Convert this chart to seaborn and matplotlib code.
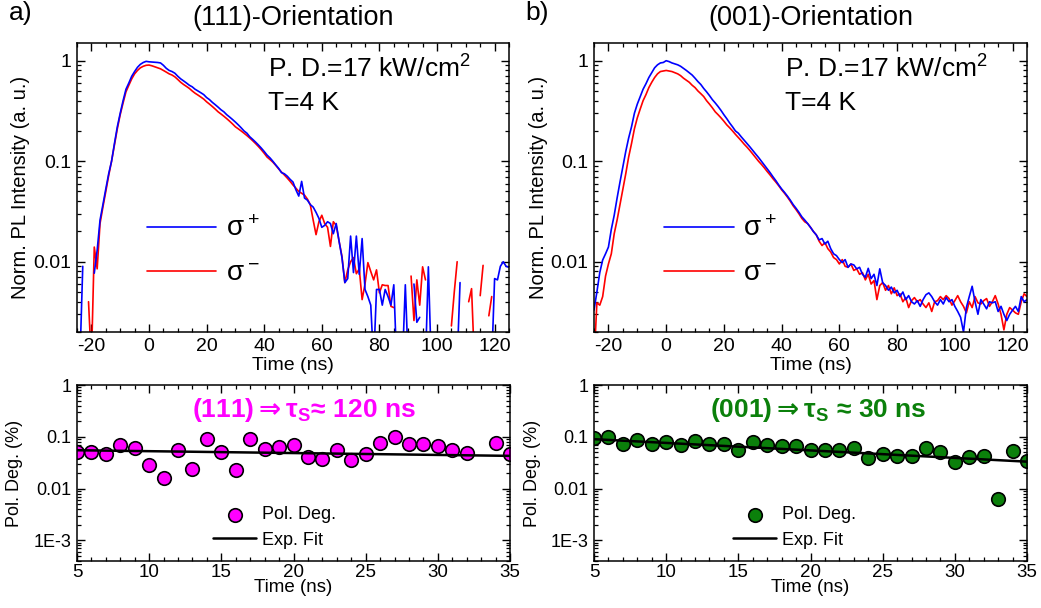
import numpy as np
import pandas as pd
import matplotlib
matplotlib.use("Agg")
import matplotlib.pyplot as plt
import seaborn as sns
from matplotlib.ticker import FixedLocator, FixedFormatter, MultipleLocator, LogLocator, NullFormatter

nan = np.nan

# ---------------------------------------------------------------- data
# time grid of the time-resolved PL traces (ns)
time_ns = np.arange(-25, 126, 1)

# (111) orientation, normalised PL intensity
pl111_sigma_plus = [
    nan, 0.001, 0.009, nan, nan, nan, 0.0077, 0.013, 0.026, 0.037,          # -25..-16
    0.053, 0.075, 0.10, 0.15, 0.22, 0.30, 0.40, 0.52, 0.60, 0.70,          # -15..-6
    0.78, 0.86, 0.92, 0.96, 0.985, 0.975, 0.97, 0.965, 0.96, 0.95,         # -5..4
    0.90, 0.84, 0.80, 0.78, 0.75, 0.70, 0.66, 0.63, 0.60, 0.57,            # 5..14
    0.55, 0.52, 0.50, 0.48, 0.46, 0.43, 0.41, 0.385, 0.365, 0.345,         # 15..24
    0.325, 0.31, 0.29, 0.275, 0.26, 0.245, 0.23, 0.215, 0.20, 0.19,        # 25..34
    0.175, 0.165, 0.155, 0.145, 0.135, 0.125, 0.115, 0.108, 0.10, 0.092,   # 35..44
    0.085, 0.077, 0.075, 0.071, 0.066, 0.062, 0.052, 0.045, 0.063, 0.043,  # 45..54
    0.041, 0.037, 0.035, 0.031, 0.027, 0.022, 0.023, 0.025, 0.024, 0.019,  # 55..64
    0.024, 0.016, 0.011, 0.0062, 0.0068, 0.018, 0.0078, 0.018, 0.0075, 0.017,  # 65..74
    0.0053, 0.0045, 0.0037, 0.001, 0.0053, 0.0053, 0.0037, 0.0053, 0.0045, 0.0037,  # 75..84
    0.0059, 0.001, nan, 0.001, 0.0059, 0.001, nan, 0.006, 0.0025, 0.0028,  # 85..94
    nan, 0.001, 0.0089, 0.001, nan, nan, nan, nan, nan, nan,               # 95..104
    nan, nan, 0.001, 0.0062, nan, nan, nan, nan, nan, nan,                 # 105..114
    nan, nan, nan, nan, 0.001, 0.0068, 0.0066, 0.0090, 0.010, 0.0090,      # 115..124
    0.0088,                                                                # 125
]
pl111_sigma_minus = [
    nan, nan, nan, nan, 0.004, 0.001, 0.014, 0.0085, 0.024, 0.035,
    0.050, 0.072, 0.10, 0.145, 0.21, 0.29, 0.38, 0.49, 0.57, 0.66,
    0.74, 0.80, 0.85, 0.88, 0.90, 0.905, 0.89, 0.87, 0.85, 0.83,
    0.80, 0.77, 0.74, 0.72, 0.69, 0.65, 0.61, 0.58, 0.555, 0.53,
    0.50, 0.475, 0.455, 0.435, 0.415, 0.39, 0.37, 0.35, 0.33, 0.31,
    0.295, 0.28, 0.265, 0.25, 0.235, 0.22, 0.21, 0.20, 0.19, 0.18,
    0.17, 0.16, 0.15, 0.14, 0.13, 0.12, 0.11, 0.104, 0.098, 0.091,
    0.084, 0.078, 0.073, 0.068, 0.063, 0.058, 0.054, 0.050, 0.048, 0.046,
    0.042, 0.037, 0.026, 0.0186, 0.025, 0.029, 0.024, 0.022, 0.0142, 0.025,
    0.023, 0.016, 0.0113, 0.0062, 0.0083, 0.010, 0.011, 0.0076, 0.0085, 0.0042,
    0.006, 0.0098, 0.008, 0.0066, 0.0083, 0.0049, 0.0059, 0.0058, 0.0058, 0.0036,
    0.0035, nan, nan, nan, nan, nan, 0.0072, 0.0026, 0.0066, 0.0037,
    0.0089, 0.0066, nan, nan, nan, nan, nan, nan, nan, nan,
    0.0023, 0.005, 0.010, nan, nan, nan, 0.004, 0.0054, 0.001, nan,
    0.0046, 0.0092, nan, 0.0029, 0.0045, nan, nan, nan, nan, nan,
    nan,
]

# (001) orientation, normalised PL intensity
pl001_sigma_plus = [
    0.0033, 0.0050, 0.0078, 0.0104, 0.0120, 0.0140, 0.021, 0.029, 0.043, 0.062,
    0.088, 0.125, 0.17, 0.22, 0.30, 0.37, 0.44, 0.52, 0.59, 0.68,
    0.76, 0.85, 0.91, 0.95, 0.96, 1.0, 0.98, 0.95, 0.93, 0.91,
    0.88, 0.84, 0.80, 0.76, 0.72, 0.67, 0.62, 0.58, 0.53, 0.49,
    0.45, 0.41, 0.38, 0.35, 0.32, 0.29, 0.265, 0.24, 0.22, 0.20,
    0.19, 0.175, 0.162, 0.15, 0.139, 0.128, 0.118, 0.109, 0.100, 0.092,
    0.084, 0.077, 0.070, 0.064, 0.058, 0.053, 0.049, 0.045, 0.041, 0.037,
    0.034, 0.031, 0.028, 0.026, 0.024, 0.022, 0.020, 0.0185, 0.0165, 0.017,
    0.015, 0.016, 0.0135, 0.012, 0.0115, 0.0105, 0.0098, 0.0105, 0.0088, 0.0095,
    0.0093, 0.0085, 0.0088, 0.0075, 0.0070, 0.0086, 0.0068, 0.0075, 0.0058, 0.0085,
    0.0062, 0.0058, 0.0052, 0.0056, 0.0049, 0.0052, 0.0045, 0.0050, 0.0042, 0.0046,
    0.0040, 0.0038, 0.0041, 0.0036, 0.0042, 0.0047, 0.0049, 0.0045, 0.0040, 0.0037,
    0.0042, 0.0038, 0.0044, 0.0040, 0.0042, 0.0036, 0.0032, 0.0028, 0.0020, 0.0035,
    0.0045, 0.0057, 0.0040, 0.0030, 0.0042, 0.0038, 0.0034, 0.0040, 0.0039, 0.0040,
    0.0032, 0.0036, 0.0030, 0.0026, 0.0030, 0.0033, 0.0036, 0.0032, 0.0045, 0.0040,
    0.0042,
]
pl001_sigma_minus = [
    0.001, 0.0039, 0.0037, 0.0045, 0.0072, 0.0095, 0.012, 0.019, 0.026, 0.037,
    0.052, 0.075, 0.11, 0.15, 0.21, 0.27, 0.33, 0.40, 0.46, 0.54,
    0.61, 0.68, 0.74, 0.78, 0.79, 0.80, 0.79, 0.78, 0.76, 0.74,
    0.71, 0.67, 0.64, 0.61, 0.57, 0.54, 0.50, 0.47, 0.44, 0.40,
    0.37, 0.34, 0.31, 0.29, 0.27, 0.25, 0.23, 0.215, 0.20, 0.185,
    0.172, 0.16, 0.148, 0.138, 0.128, 0.118, 0.109, 0.100, 0.093, 0.086,
    0.079, 0.073, 0.067, 0.062, 0.057, 0.052, 0.048, 0.044, 0.040, 0.036,
    0.033, 0.030, 0.027, 0.025, 0.024, 0.022, 0.020, 0.0185, 0.016, 0.0145,
    0.0155, 0.0135, 0.0125, 0.011, 0.0105, 0.0095, 0.0105, 0.009, 0.0088, 0.0095,
    0.0082, 0.0085, 0.0075, 0.0078, 0.0066, 0.0075, 0.0060, 0.0065, 0.0042, 0.0058,
    0.0062, 0.0052, 0.0058, 0.0048, 0.0055, 0.0046, 0.0048, 0.0040, 0.0044, 0.0035,
    0.0041, 0.0044, 0.0040, 0.0042, 0.0038, 0.0035, 0.0039, 0.0032, 0.0040, 0.0041,
    0.0045, 0.0042, 0.0046, 0.0043, 0.0037, 0.0041, 0.0046, 0.0040, 0.0036, 0.0031,
    0.0040, 0.0035, 0.0045, 0.0039, 0.0038, 0.0041, 0.0043, 0.0036, 0.0040, 0.0046,
    0.0038, 0.0030, 0.0021, 0.0030, 0.0035, 0.0033, 0.0031, 0.0030, 0.0040, 0.0048,
    0.0045,
]

# degree of polarisation vs time (ns)
pol_time = np.arange(5, 36, 1)
pol_deg_111 = [0.052, 0.052, 0.046, 0.069, 0.061, 0.028, 0.016, 0.056, 0.024, 0.090,
               0.052, 0.023, 0.090, 0.059, 0.064, 0.069, 0.041, 0.038, 0.055, 0.035,
               0.047, 0.075, 0.097, 0.073, 0.073, 0.067, 0.056, 0.048, nan, 0.075,
               0.046]
pol_deg_001 = [0.093, 0.100, 0.073, 0.086, 0.074, 0.080, 0.069, 0.082, 0.074, 0.072,
               0.055, 0.080, 0.071, 0.067, 0.067, 0.056, 0.056, 0.056, 0.061, 0.039,
               0.047, 0.042, 0.042, 0.061, 0.051, 0.032, 0.041, 0.042, 0.0062, 0.054,
               0.034]

# exponential fits: amplitude at t = 5 ns and spin lifetime (ns)
fit_111 = {"amp": 0.055, "tau": 120}
fit_001 = {"amp": 0.090, "tau": 30}

trace_ticks = [0.01, 0.1, 1]
trace_ticklabels = ["0.01", "0.1", "1"]
pol_ticks = [1e-3, 0.01, 0.1, 1]
pol_ticklabels = ["1E-3", "0.01", "0.1", "1"]

# ---------------------------------------------------------------- style
sns.set_theme(style="ticks")
plt.rcParams.update({
    "font.family": ["Liberation Sans", "DejaVu Sans"],
    "mathtext.default": "regular",
    "axes.unicode_minus": False,
    "axes.linewidth": 1.1,
    "axes.edgecolor": "black",
    "xtick.direction": "in", "ytick.direction": "in",
    "xtick.top": True, "ytick.right": True,
    "xtick.major.size": 5.5, "ytick.major.size": 5.5,
    "xtick.minor.size": 3, "ytick.minor.size": 3,
    "xtick.major.width": 1.0, "ytick.major.width": 1.0,
    "xtick.minor.width": 0.9, "ytick.minor.width": 0.9,
    "xtick.color": "black", "ytick.color": "black",
    "text.color": "black", "axes.labelcolor": "black",
})

BLUE, RED = "#0000ff", "#ff0000"
MAGENTA, GREEN = "#ff00ff", "#0b800b"

fig = plt.figure(figsize=(10.41, 6.08), dpi=100)
W, H = 1041, 608


def px_axes(left, top, right, bottom):
    return fig.add_axes([left / W, 1 - bottom / H, (right - left) / W, (bottom - top) / H])


def segments(values):
    arr = np.asarray(values, dtype=float)
    return np.cumsum(np.isnan(arr))


def draw_traces(ax, plus, minus, title, ylab_x):
    for vals, lab, col in [(minus, r"σ$^-$", RED), (plus, r"σ$^+$", BLUE)]:
        df = pd.DataFrame({"t": time_ns, "I": vals, "seg": segments(vals)})
        sns.lineplot(data=df, x="t", y="I", units="seg", estimator=None,
                     color=col, lw=1.2, label=lab, ax=ax)
    ax.set_yscale("log")
    ax.set_xlim(-25, 125)
    ax.set_ylim(0.002, 1.5)
    ax.xaxis.set_major_locator(MultipleLocator(20))
    ax.xaxis.set_minor_locator(MultipleLocator(5))
    ax.yaxis.set_major_locator(FixedLocator(trace_ticks))
    ax.yaxis.set_major_formatter(FixedFormatter(trace_ticklabels))
    ax.yaxis.set_minor_locator(LogLocator(base=10, subs=np.arange(2, 10)))
    ax.yaxis.set_minor_formatter(NullFormatter())
    ax.tick_params(labelsize=14, pad=4)
    ax.set_xlabel("Time (ns)", fontsize=14)
    ax.set_ylabel("Norm. PL Intensity (a. u.)", fontsize=14.5)
    ax.xaxis.set_label_coords(0.5, -0.085)
    ax.yaxis.set_label_coords(ylab_x, 0.5)
    ax.text(0.5, 1.087, title, transform=ax.transAxes, ha="center", va="center", fontsize=19.5)
    ax.text(0.442, 0.879, r"P. D.=17 kW/cm$^2$", transform=ax.transAxes, fontsize=19)
    ax.text(0.442, 0.768, "T=4 K", transform=ax.transAxes, fontsize=19)
    handles, labels = ax.get_legend_handles_labels()
    uniq = dict(zip(labels, handles))
    order = [r"σ$^+$", r"σ$^-$"]
    ax.legend([uniq[k] for k in order], order, loc="center left",
              bbox_to_anchor=(0.162, 0.278), frameon=False, fontsize=20,
              handlelength=2.5, handletextpad=0.35, labelspacing=0.67,
              borderpad=0, borderaxespad=0)
    for s in ax.spines.values():
        s.set_linewidth(1.1)


def draw_pol(ax, values, fit, color, label, label_x, leg_x, ylab_x):
    sns.scatterplot(x=pol_time, y=values, color=color, edgecolor="black", linewidth=1.2,
                    s=95, label="Pol. Deg.", ax=ax, zorder=2)
    fit_curve = fit["amp"] * np.exp(-(pol_time - pol_time[0]) / fit["tau"])
    sns.lineplot(x=pol_time, y=fit_curve, color="black", lw=1.8, label="Exp. Fit",
                 ax=ax, zorder=3)
    ax.set_yscale("log")
    ax.set_xlim(5, 35)
    ax.set_ylim(4e-4, 1.0)
    ax.xaxis.set_major_locator(MultipleLocator(5))
    ax.xaxis.set_minor_locator(MultipleLocator(1))
    ax.yaxis.set_major_locator(FixedLocator(pol_ticks))
    ax.yaxis.set_major_formatter(FixedFormatter(pol_ticklabels))
    ax.yaxis.set_minor_locator(LogLocator(base=10, subs=np.arange(2, 10)))
    ax.yaxis.set_minor_formatter(NullFormatter())
    ax.tick_params(axis="x", labelsize=13.5, pad=2)
    ax.tick_params(axis="y", labelsize=13, pad=4)
    ax.set_xlabel("Time (ns)", fontsize=13.5)
    ax.set_ylabel("Pol. Deg. (%)", fontsize=13)
    ax.xaxis.set_label_coords(0.5, -0.105)
    ax.yaxis.set_label_coords(ylab_x, 0.5)
    ax.text(label_x, 0.818, label, transform=ax.transAxes, ha="center", va="baseline",
            fontsize=19, fontweight="bold", color=color)
    handles, labels = ax.get_legend_handles_labels()
    ax.legend(handles, labels, loc="center left", bbox_to_anchor=(leg_x, 0.19),
              frameon=False, fontsize=13, handlelength=2.4, handletextpad=0.3,
              labelspacing=0.47, borderpad=0, borderaxespad=0)
    for s in ax.spines.values():
        s.set_linewidth(1.1)


ax_a = px_axes(77, 43, 509, 332)
ax_b = px_axes(594, 43, 1027, 332)
ax_c = px_axes(77, 385, 510, 561)
ax_d = px_axes(594, 385, 1027, 561)

draw_traces(ax_a, pl111_sigma_plus, pl111_sigma_minus, "(111)-Orientation", -0.109)
draw_traces(ax_b, pl001_sigma_plus, pl001_sigma_minus, "(001)-Orientation", -0.106)
draw_pol(ax_c, pol_deg_111, fit_111, MAGENTA,
         r"(111)$\mathbf{\Rightarrow}$τ$_S$≈ 120 ns", 0.524, 0.314, -0.125)
draw_pol(ax_d, pol_deg_001, fit_001, GREEN,
         r"(001)$\mathbf{\Rightarrow}$τ$_S$ ≈ 30 ns", 0.517, 0.321, -0.122)

fig.text(21 / W, 1 - 13 / H, "a)", ha="center", va="center", fontsize=19)
fig.text(537 / W, 1 - 13 / H, "b)", ha="center", va="center", fontsize=19)

fig.savefig("out.png", dpi=100)
